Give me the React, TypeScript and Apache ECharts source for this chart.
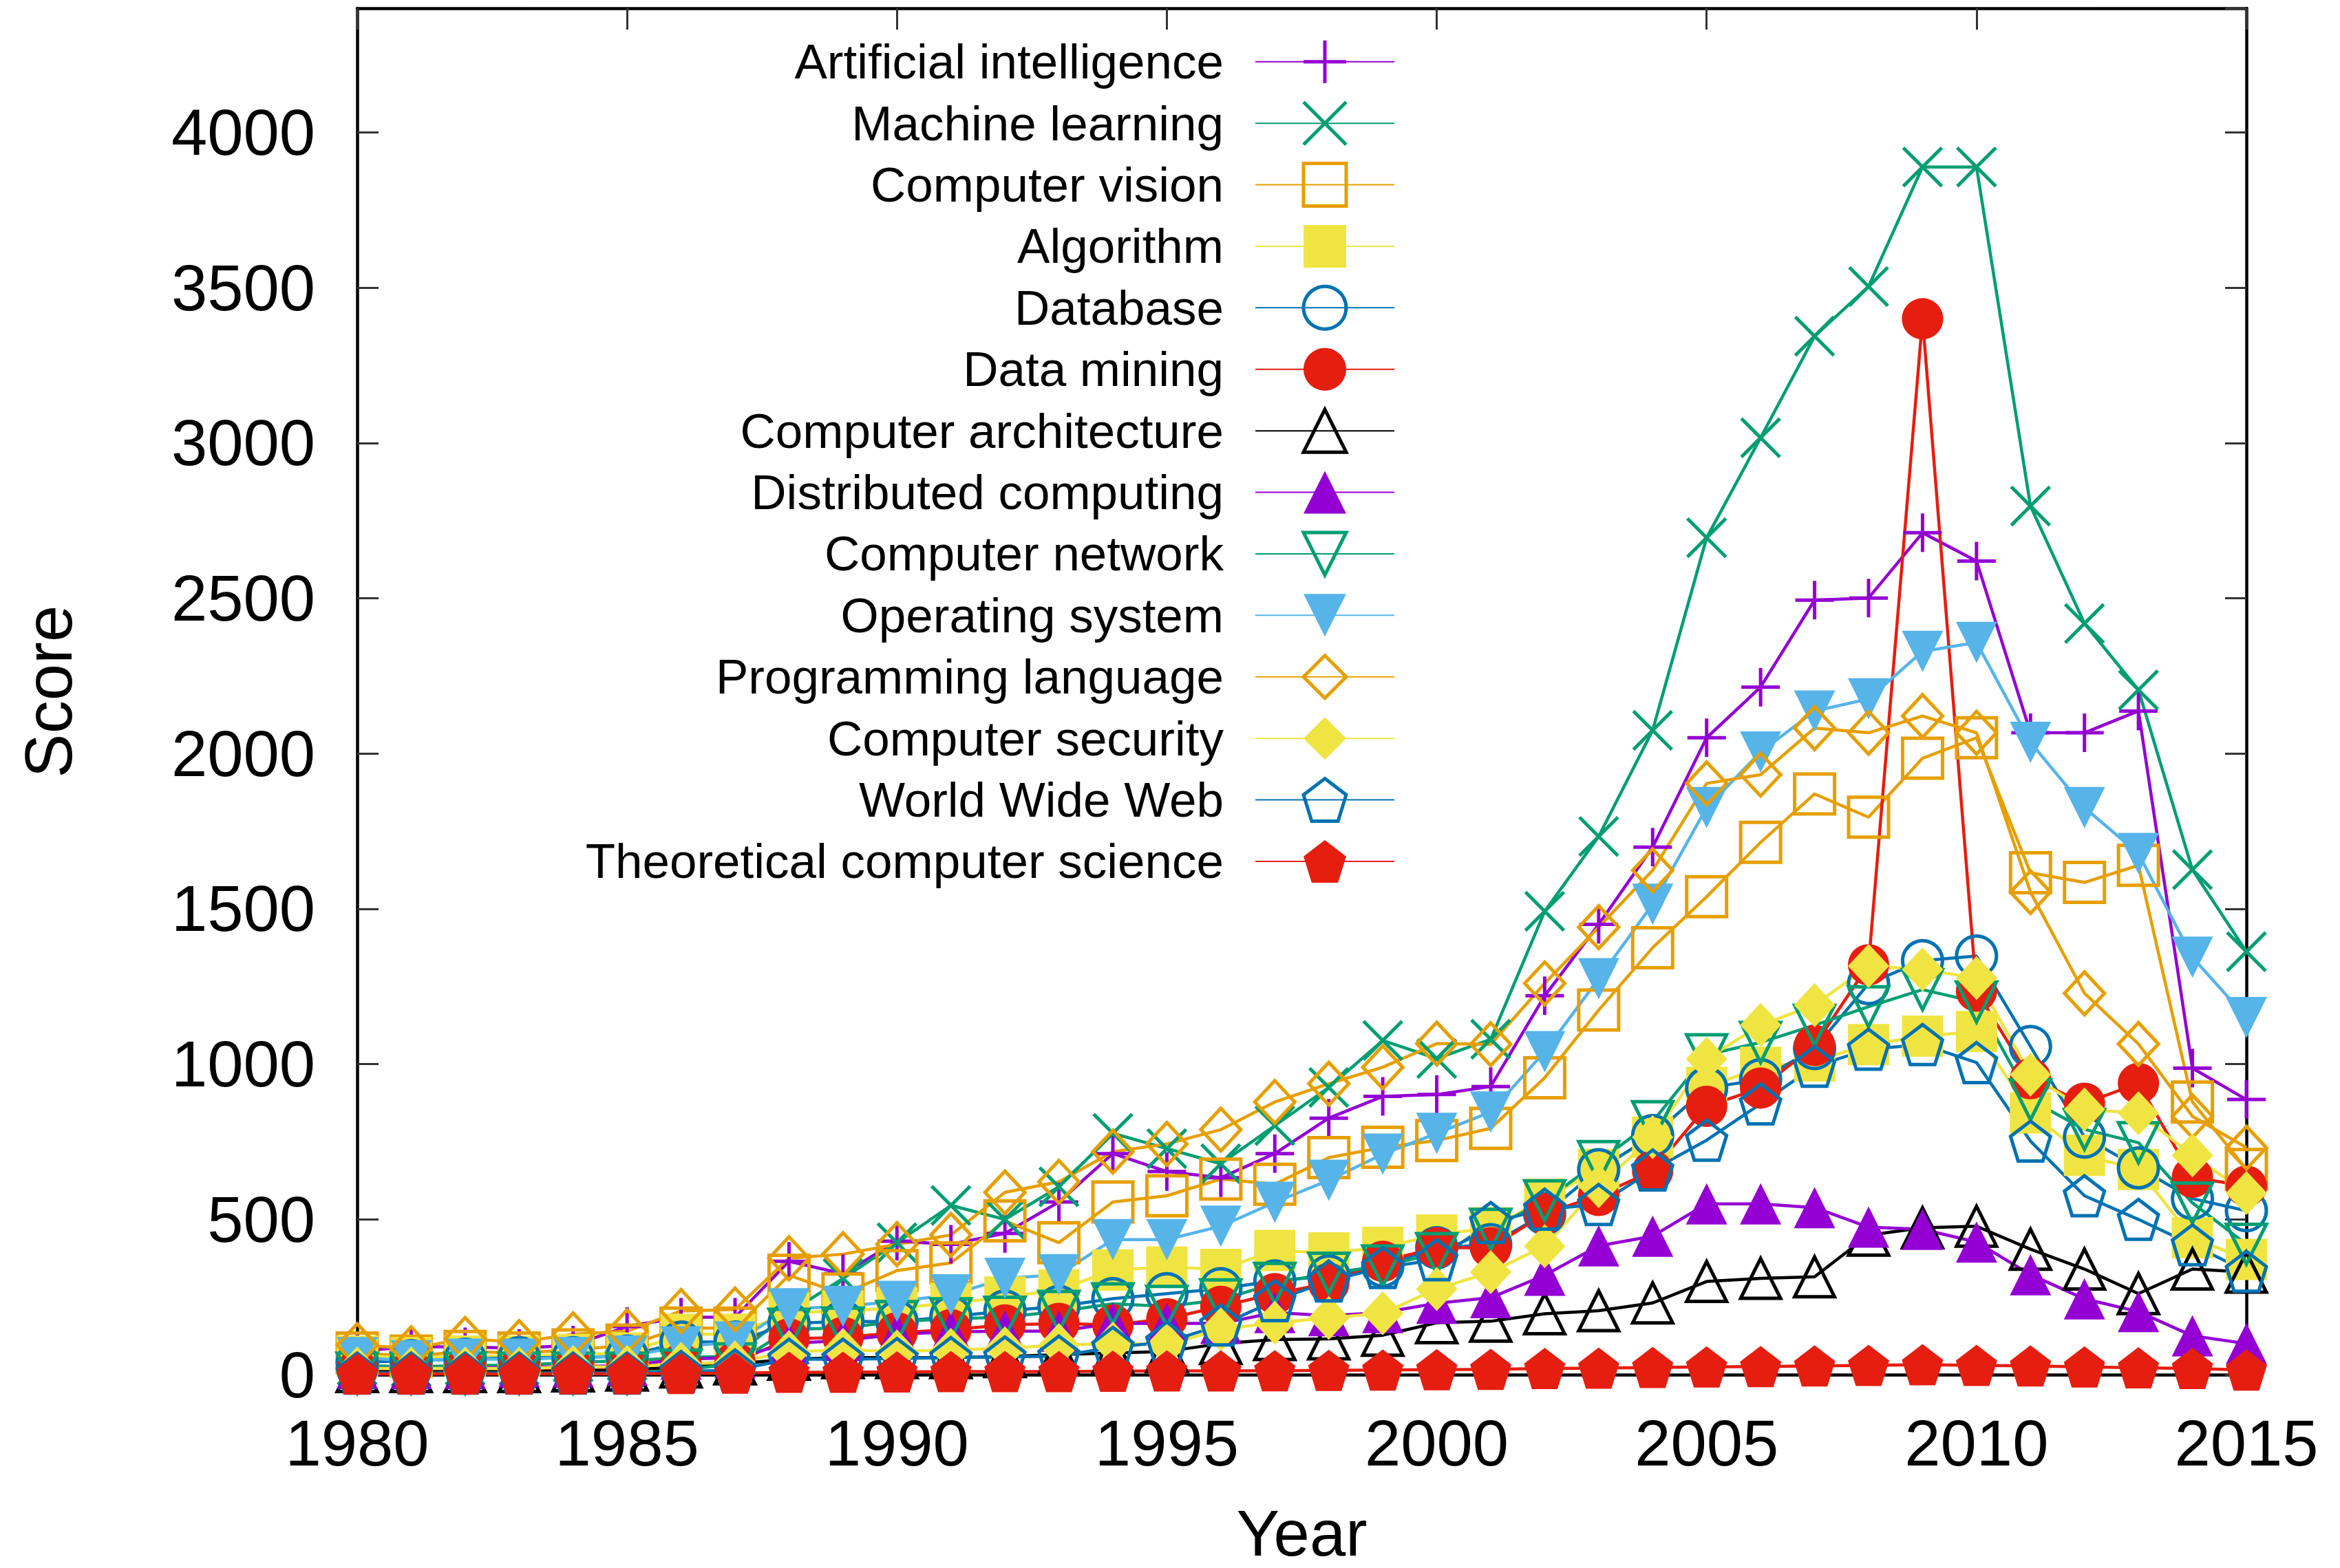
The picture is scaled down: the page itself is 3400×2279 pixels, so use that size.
import React, { useEffect, useRef } from "react";
import * as echarts from "echarts";

const years = [
  1980, 1981, 1982, 1983, 1984, 1985, 1986, 1987, 1988, 1989,
  1990, 1991, 1992, 1993, 1994, 1995, 1996, 1997, 1998, 1999,
  2000, 2001, 2002, 2003, 2004, 2005, 2006, 2007, 2008, 2009,
  2010, 2011, 2012, 2013, 2014, 2015,
];

const artificialIntelligence = [75, 90, 90, 85, 95, 155, 185, 185, 365, 325, 430, 420, 455, 556, 712, 654, 634, 712, 826, 896, 902, 928, 1220, 1450, 1699, 2051, 2214, 2494, 2501, 2711, 2620, 2067, 2067, 2137, 987, 886];
const machineLearning = [30, 25, 30, 30, 40, 45, 55, 60, 200, 310, 425, 545, 500, 605, 777, 728, 679, 802, 925, 1076, 1018, 1080, 1492, 1733, 2075, 2695, 3017, 3344, 3504, 3889, 3889, 2797, 2419, 2205, 1626, 1362];
const computerVision = [70, 60, 75, 70, 80, 95, 150, 150, 320, 260, 335, 360, 495, 425, 556, 576, 630, 613, 699, 732, 754, 793, 956, 1174, 1375, 1539, 1714, 1870, 1795, 1985, 2051, 1616, 1585, 1640, 878, 661];
const algorithm = [60, 55, 60, 60, 65, 70, 130, 130, 200, 205, 215, 230, 250, 273, 337, 347, 339, 400, 392, 410, 450, 473, 565, 661, 765, 925, 990, 1010, 1063, 1090, 1105, 843, 706, 661, 441, 371];
const database = [40, 45, 50, 55, 55, 60, 105, 105, 165, 171, 171, 187, 205, 220, 245, 261, 277, 302, 318, 350, 409, 419, 518, 660, 770, 923, 950, 1050, 1259, 1333, 1348, 1057, 765, 666, 567, 528];
const dataMining = [15, 15, 20, 20, 20, 25, 35, 40, 115, 120, 135, 145, 160, 165, 160, 180, 220, 261, 294, 365, 409, 409, 518, 577, 656, 864, 923, 1060, 1320, 3400, 1235, 953, 874, 938, 636, 607];
const computerArchitecture = [10, 10, 10, 10, 12, 15, 25, 35, 50, 55, 55, 55, 58, 65, 70, 75, 100, 113, 115, 127, 167, 172, 196, 206, 231, 300, 310, 315, 449, 473, 478, 404, 340, 261, 340, 330];
const distributedComputing = [20, 20, 20, 25, 25, 30, 50, 55, 100, 110, 130, 138, 140, 140, 165, 165, 165, 200, 190, 200, 230, 248, 320, 415, 446, 550, 550, 538, 475, 468, 427, 322, 244, 203, 125, 100];
const computerNetwork = [5, 5, 5, 5, 5, 5, 15, 35, 146, 150, 171, 180, 185, 204, 228, 220, 241, 294, 327, 350, 390, 468, 560, 686, 815, 1030, 1070, 1125, 1185, 1240, 1200, 885, 790, 747, 553, 420];
const operatingSystem = [55, 45, 50, 50, 55, 60, 90, 105, 212, 220, 236, 257, 310, 322, 435, 435, 478, 555, 626, 710, 777, 846, 1040, 1275, 1515, 1826, 2005, 2137, 2176, 2329, 2358, 2036, 1826, 1678, 1344, 1150];
const programmingLanguage = [95, 85, 115, 105, 130, 140, 205, 210, 375, 388, 420, 450, 587, 621, 718, 743, 789, 878, 937, 990, 1066, 1064, 1260, 1441, 1624, 1904, 1932, 2082, 2067, 2121, 2067, 1554, 1228, 1065, 832, 731];
const computerSecurity = [20, 20, 20, 20, 25, 25, 35, 40, 73, 80, 75, 80, 85, 95, 100, 97, 146, 167, 183, 198, 276, 330, 414, 607, 765, 1017, 1126, 1190, 1316, 1305, 1277, 966, 854, 842, 706, 585];
const worldWideWeb = [5, 5, 5, 5, 5, 5, 10, 15, 50, 50, 52, 55, 57, 60, 88, 105, 160, 238, 302, 345, 370, 490, 533, 548, 659, 755, 872, 993, 1048, 1063, 1005, 752, 576, 500, 418, 333];
const theoreticalCS = [2, 2, 2, 2, 3, 3, 4, 5, 8, 8, 9, 10, 10, 10, 11, 12, 12, 13, 14, 15, 16, 17, 20, 21, 23, 25, 26, 28, 30, 32, 30, 28, 25, 22, 20, 15];

const yTicks = { min: 0, max: 4400, interval: 500 };
const xTicks = { min: 1980, max: 2015, interval: 5 };

const PURPLE = "#9400d3";
const GREEN = "#009e73";
const ORANGE = "#e69f00";
const YELLOW = "#f0e442";
const BLUE = "#0072b2";
const RED = "#e51e10";
const BLACK = "#000000";
const SKY = "#56b4e9";

const PLUS = "path://M0,50 L100,50 M50,0 L50,100";
const CROSS = "path://M0,0 L100,100 M100,0 L0,100";
const PENT = "path://M50,0 L97.55,34.55 L79.39,90.45 L20.61,90.45 L2.45,34.55 Z";

type Def = {
  name: string;
  data: number[];
  color: string;
  symbol: string;
  hollow: boolean;
  size: number | number[];
  rotate?: number;
};

const defs: Def[] = [
  { name: "Artificial intelligence", data: artificialIntelligence, color: PURPLE, symbol: PLUS, hollow: true, size: 56 },
  { name: "Machine learning", data: machineLearning, color: GREEN, symbol: CROSS, hollow: true, size: 56 },
  { name: "Computer vision", data: computerVision, color: ORANGE, symbol: "rect", hollow: true, size: 58 },
  { name: "Algorithm", data: algorithm, color: YELLOW, symbol: "rect", hollow: false, size: 60 },
  { name: "Database", data: database, color: BLUE, symbol: "circle", hollow: true, size: 58 },
  { name: "Data mining", data: dataMining, color: RED, symbol: "circle", hollow: false, size: 60 },
  { name: "Computer architecture", data: computerArchitecture, color: BLACK, symbol: "triangle", hollow: true, size: 58 },
  { name: "Distributed computing", data: distributedComputing, color: PURPLE, symbol: "triangle", hollow: false, size: 60 },
  { name: "Computer network", data: computerNetwork, color: GREEN, symbol: "triangle", hollow: true, size: 58, rotate: 180 },
  { name: "Operating system", data: operatingSystem, color: SKY, symbol: "triangle", hollow: false, size: 60, rotate: 180 },
  { name: "Programming language", data: programmingLanguage, color: ORANGE, symbol: "diamond", hollow: true, size: [58, 62] },
  { name: "Computer security", data: computerSecurity, color: YELLOW, symbol: "diamond", hollow: false, size: [60, 64] },
  { name: "World Wide Web", data: worldWideWeb, color: BLUE, symbol: PENT, hollow: true, size: 58 },
  { name: "Theoretical computer science", data: theoreticalCS, color: RED, symbol: PENT, hollow: false, size: 60 },
];

const FONT = "'Liberation Sans', Arial, Helvetica, sans-serif";

export default function App() {
  const ref = useRef<HTMLDivElement>(null);

  useEffect(() => {
    document.body.style.margin = "0";
    const chart = echarts.init(ref.current!, null, { renderer: "svg" });

    const axisLine = { show: true, onZero: false, lineStyle: { color: "#000", width: 4.5 } };
    const axisTick = { show: true, inside: true, length: 31, lineStyle: { color: "#333", width: 3 } };

    const series = defs.map((d) => ({
      type: "line",
      name: d.name,
      data: years.map((y, i) => [y, d.data[i]]),
      symbol: d.symbol,
      symbolSize: d.size,
      symbolRotate: d.rotate || 0,
      showAllSymbol: true,
      clip: false,
      silent: true,
      emphasis: { disabled: true },
      lineStyle: { color: d.color, width: 4.5 },
      itemStyle: d.hollow
        ? { color: "none", borderColor: d.color, borderWidth: 5 }
        : { color: d.color, borderColor: d.color, borderWidth: 0 },
    }));

    chart.setOption({
      animation: false,
      backgroundColor: "#ffffff",
      grid: {
        left: 519,
        right: 136,
        top: 12,
        bottom: 281,
        containLabel: false,
        outerBoundsMode: "none",
      },
      legend: {
        orient: "vertical",
        align: "right",
        right: 3400 - 2027,
        top: 51,
        padding: 0,
        itemWidth: 202,
        itemHeight: 77.5,
        itemGap: 11.9,
        selectedMode: false,
        textStyle: {
          fontSize: 71,
          lineHeight: 77.5,
          fontFamily: FONT,
          color: "#000",
          padding: [0, 41, 0, 0],
        },
        data: defs.map((d) => ({
          name: d.name,
          itemStyle: { borderWidth: d.hollow ? 5 : 0 },
        })),
      },
      xAxis: [
        {
          type: "value",
          position: "bottom",
          ...xTicks,
          axisLine,
          axisTick,
          splitLine: { show: false },
          axisLabel: {
            fontSize: 94,
            fontFamily: FONT,
            color: "#000",
            margin: 52,
            formatter: (v: number) => String(v),
          },
          name: "Year",
          nameLocation: "middle",
          nameGap: 183,
          nameMoveOverlap: false,
          nameTextStyle: { fontSize: 94, fontFamily: FONT, color: "#000" },
        },
        {
          type: "value",
          position: "top",
          ...xTicks,
          axisLine,
          axisTick,
          splitLine: { show: false },
          axisLabel: { show: false },
        },
      ],
      yAxis: [
        {
          type: "value",
          position: "left",
          ...yTicks,
          axisLine,
          axisTick,
          splitLine: { show: false },
          axisLabel: {
            fontSize: 94,
            fontFamily: FONT,
            color: "#000",
            margin: 61,
            showMaxLabel: false,
            formatter: (v: number) => (v % 500 === 0 ? String(v) : ""),
          },
          name: "Score",
          nameLocation: "middle",
          nameGap: 401,
          nameMoveOverlap: false,
          nameTextStyle: { fontSize: 96, fontFamily: FONT, color: "#000" },
        },
        {
          type: "value",
          position: "right",
          ...yTicks,
          axisLine,
          axisTick,
          splitLine: { show: false },
          axisLabel: { show: false },
        },
      ],
      series,
    });

    return () => chart.dispose();
  }, []);

  return <div ref={ref} style={{ width: 3400, height: 2279 }} />;
}
